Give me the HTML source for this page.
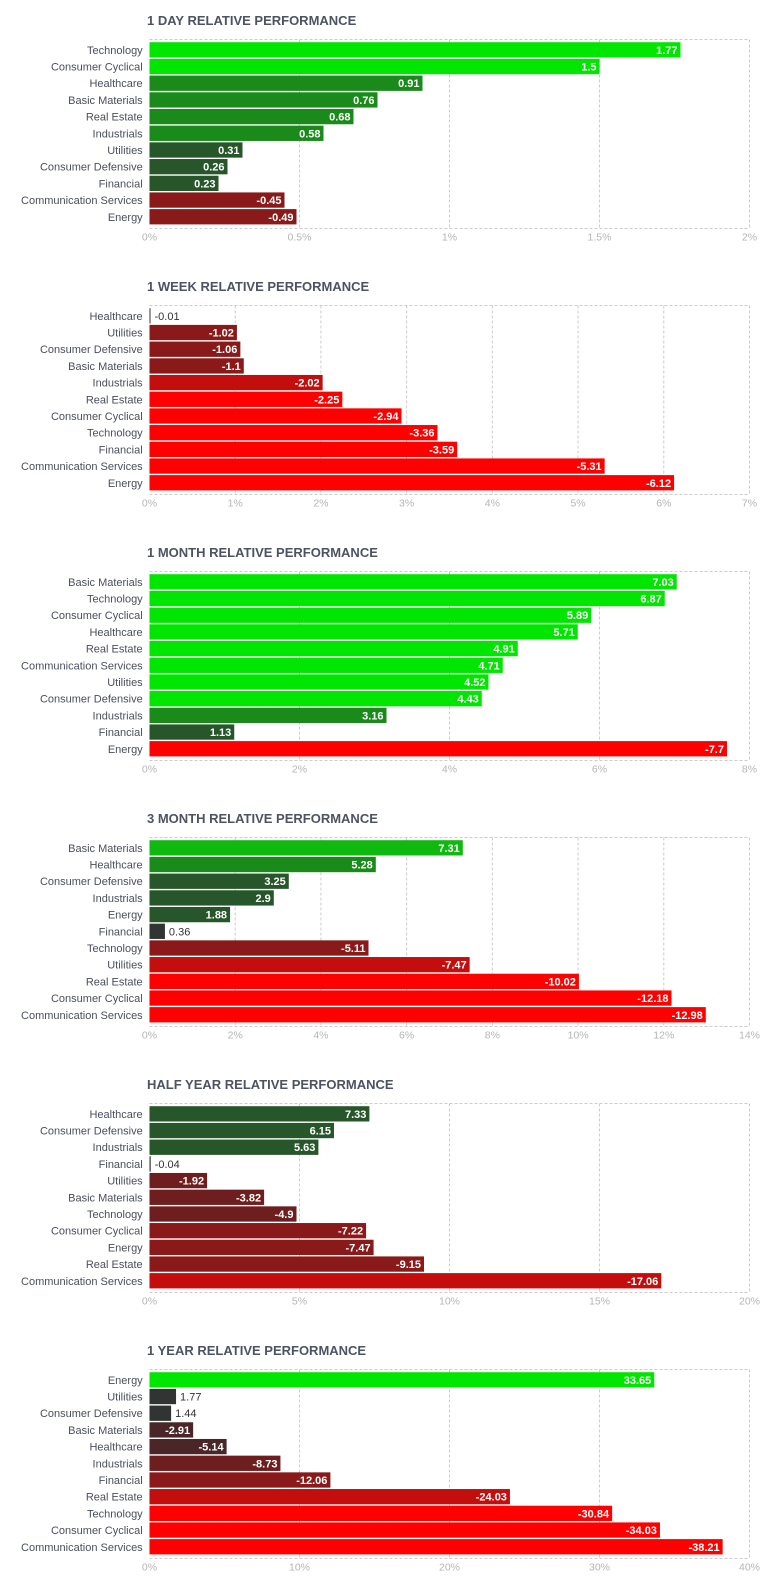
<!DOCTYPE html>
<html><head><meta charset="utf-8">
<style>
html,body{margin:0;padding:0;background:#fff;}
svg{display:block;font-family:"Liberation Sans",sans-serif;}
</style></head>
<body>
<svg id="chart" width="774" height="1585" viewBox="0 0 774 1585" xmlns="http://www.w3.org/2000/svg"></svg>
<script>
// ---- data ----
const titles = ["1 DAY RELATIVE PERFORMANCE","1 WEEK RELATIVE PERFORMANCE","1 MONTH RELATIVE PERFORMANCE","3 MONTH RELATIVE PERFORMANCE","HALF YEAR RELATIVE PERFORMANCE","1 YEAR RELATIVE PERFORMANCE"];
const cats1D = ["Technology","Consumer Cyclical","Healthcare","Basic Materials","Real Estate","Industrials","Utilities","Consumer Defensive","Financial","Communication Services","Energy"];
const vals1D = [1.77,1.5,0.91,0.76,0.68,0.58,0.31,0.26,0.23,-0.45,-0.49];
const ticks1D = [0,0.5,1,1.5,2];
const cats1W = ["Healthcare","Utilities","Consumer Defensive","Basic Materials","Industrials","Real Estate","Consumer Cyclical","Technology","Financial","Communication Services","Energy"];
const vals1W = [-0.01,-1.02,-1.06,-1.1,-2.02,-2.25,-2.94,-3.36,-3.59,-5.31,-6.12];
const ticks1W = [0,1,2,3,4,5,6,7];
const cats1M = ["Basic Materials","Technology","Consumer Cyclical","Healthcare","Real Estate","Communication Services","Utilities","Consumer Defensive","Industrials","Financial","Energy"];
const vals1M = [7.03,6.87,5.89,5.71,4.91,4.71,4.52,4.43,3.16,1.13,-7.7];
const ticks1M = [0,2,4,6,8];
const cats3M = ["Basic Materials","Healthcare","Consumer Defensive","Industrials","Energy","Financial","Technology","Utilities","Real Estate","Consumer Cyclical","Communication Services"];
const vals3M = [7.31,5.28,3.25,2.9,1.88,0.36,-5.11,-7.47,-10.02,-12.18,-12.98];
const ticks3M = [0,2,4,6,8,10,12,14];
const catsHY = ["Healthcare","Consumer Defensive","Industrials","Financial","Utilities","Basic Materials","Technology","Consumer Cyclical","Energy","Real Estate","Communication Services"];
const valsHY = [7.33,6.15,5.63,-0.04,-1.92,-3.82,-4.9,-7.22,-7.47,-9.15,-17.06];
const ticksHY = [0,5,10,15,20];
const cats1Y = ["Energy","Utilities","Consumer Defensive","Basic Materials","Healthcare","Industrials","Financial","Real Estate","Technology","Consumer Cyclical","Communication Services"];
const vals1Y = [33.65,1.77,1.44,-2.91,-5.14,-8.73,-12.06,-24.03,-30.84,-34.03,-38.21];
const ticks1Y = [0,10,20,30,40];

const panels = [
 {cats:cats1D, vals:vals1D, ticks:ticks1D, gT:[0.05,0.5,1.2,1.4], rT:[0.05,0.2,0.4,0.9,1.5]},
 {cats:cats1W, vals:vals1W, ticks:ticks1W, gT:[0.05,1,2,4], rT:[0.05,0.5,0.9,1.8,2.2]},
 {cats:cats1M, vals:vals1M, ticks:ticks1M, gT:[0.05,2,4.2,4.2], rT:[0.05,1,2,3,4]},
 {cats:cats3M, vals:vals3M, ticks:ticks3M, gT:[0.5,5,7,10], rT:[0.5,2,4,7,9.5]},
 {cats:catsHY, vals:valsHY, ticks:ticksHY, gT:[0.1,10,15,20], rT:[0.1,1,7,15,25]},
 {cats:cats1Y, vals:vals1Y, ticks:ticks1Y, gT:[2,10,20,30], rT:[2,8,10,20,30]}
];
const greenPal = ['#303432','#27562a','#1a8a1a','#10b910','#00e600'];
const redPal = ['#333333','#4a2628','#6e1e1e','#8a1a1a','#c40e0e','#ff0000'];

const NS = "http://www.w3.org/2000/svg";
const svg = document.getElementById('chart');
function mk(tag, attrs, parent){
  const e = document.createElementNS(NS, tag);
  for (const k in attrs) e.setAttribute(k, attrs[k]);
  parent.appendChild(e);
  return e;
}
const X0 = 149.5, X1 = 749.5, PH = 189, PITCH = 266, TOP0 = 39.5;
const meas = document.createElement('canvas').getContext('2d');
meas.font = 'bold 11px "Liberation Sans"';

panels.forEach((p, i) => {
  const top = TOP0 + i * PITCH;
  const bottom = top + PH;
  const maxT = p.ticks[p.ticks.length - 1];
  const xs = v => X0 + (Math.abs(v) / maxT) * (X1 - X0);
  const g = mk('g', {}, svg);
  
  

  const t = mk('text', {x: 147, y: top - 14.5, 'font-size': 13, 'font-weight': 'bold', fill: '#4d5363'}, g);
  t.textContent = titles[i];
  
  

  // grid
  p.ticks.forEach((tv, k) => {
    const x = xs(tv);
    if (k > 0) {
      const gl = mk('line', {x1: x, x2: x, y1: top, y2: bottom, stroke: '#ccc', 'stroke-width': 1, 'stroke-dasharray': '3,2'}, g);
      
      
    }
    const tl = mk('text', {x: x, y: bottom + 12, 'font-size': 10.5, fill: '#b5b5b5', 'text-anchor': 'middle'}, g);
    tl.textContent = tv + '%';
    
    
  });
  const tb = mk('line', {x1: X0, x2: X1, y1: top, y2: top, stroke: '#ccc', 'stroke-width': 1, 'stroke-dasharray': '3,2'}, g);
  
  
  const bb = mk('line', {x1: X0, x2: X1, y1: bottom, y2: bottom, stroke: '#ccc', 'stroke-width': 1, 'stroke-dasharray': '3,2'}, g);
  
  

  const rowH = (PH - 5.4) / p.cats.length;
  p.cats.forEach((c, k) => {
    const v = p.vals[k];
    const y = top + 2.7 + k * rowH;
    const bh = rowH - 1.4;
    const cy = y + bh / 2;
    const lab = mk('text', {x: 142.7, y: cy + 4, 'font-size': 11, fill: '#4a4f5c', 'text-anchor': 'end'}, g);
    lab.textContent = c;
    
    

    const a = Math.abs(v);
    let lvl = 0;
    const th = v >= 0 ? p.gT : p.rT;
    th.forEach(tv => { if (a >= tv) lvl++; });
    const col = v >= 0 ? greenPal[lvl] : redPal[lvl];
    const w = Math.max(1, xs(v) - X0);
    const bar = mk('rect', {x: X0, y: y, width: w, height: bh, fill: col}, g);
    
    

    const txt = String(v);
    const tw = meas.measureText(txt).width;
    let vl;
    if (w >= tw + 8) {
      vl = mk('text', {x: X0 + w - 3, y: cy + 4, 'font-size': 11, 'font-weight': 'bold', fill: '#fff', 'text-anchor': 'end'}, g);
    } else {
      vl = mk('text', {x: X0 + w + 4, y: cy + 4, 'font-size': 11, fill: '#333', 'text-anchor': 'start'}, g);
    }
    vl.textContent = txt;
    
    
  });
  // right border drawn last
  const rb = mk('line', {x1: X1, x2: X1, y1: top, y2: bottom, stroke: '#ccc', 'stroke-width': 1, 'stroke-dasharray': '3,2'}, g);
  
  
});
</script>
</body></html>
